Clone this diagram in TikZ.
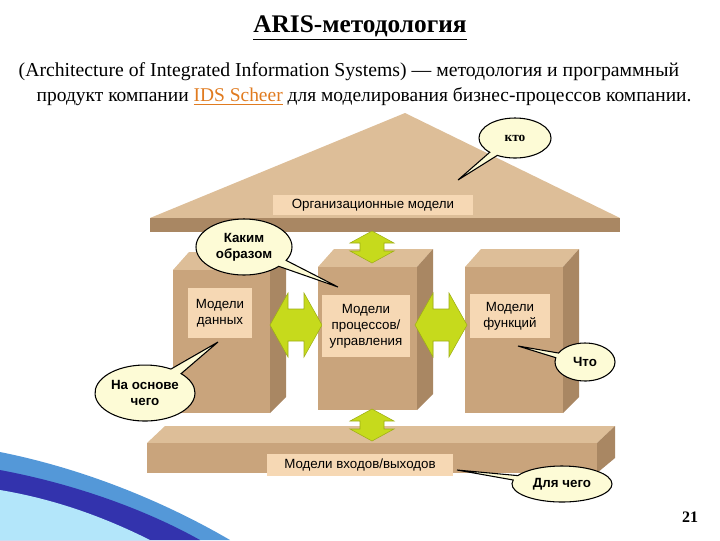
\documentclass[tikz,border=0pt]{standalone}
\usepackage{fontspec}
\setmainfont{Liberation Serif}
\newfontfamily\dsans{Liberation Sans}
\usetikzlibrary{shapes.callouts}
\definecolor{front}{HTML}{C9A47C}
\definecolor{side}{HTML}{A98763}
\definecolor{topf}{HTML}{DDBE98}
\definecolor{lbl}{HTML}{F6D8B4}
\definecolor{cal}{HTML}{FDFBD6}
\definecolor{grn}{HTML}{C6DA1C}
\definecolor{orng}{HTML}{E07B20}
\begin{document}
\begin{tikzpicture}[x=0.75pt,y=-0.75pt,
 lb/.style={fill=lbl,font=\dsans\fontsize{10}{12}\selectfont,align=center,inner sep=2pt},
 co/.style={ellipse callout,draw=black,fill=cal,thick,font=\dsans\bfseries\fontsize{10}{12}\selectfont,align=center,inner sep=1pt},
 ga/.style={fill=grn,draw=grn!80!black}]
\useasboundingbox (0,0) rectangle (720,540);
% swoosh
\fill[cyan!60!blue!70] (0,452) .. controls (90,470) and (170,505) .. (230,540) -- (0,540) -- cycle;
\fill[blue!60!black!80] (0,470) .. controls (80,485) and (150,512) .. (200,540) -- (0,540) -- cycle;
\fill[cyan!30] (0,490) .. controls (60,500) and (110,520) .. (150,540) -- (0,540) -- cycle;
% title
\node (t) at (360,28) {\fontsize{19}{22}\selectfont\bfseries\underline{ARIS-методология}};
\node[anchor=west] (p1) at (14,72) {\fontsize{14.8}{17}\selectfont (Architecture of Integrated Information Systems) — методология и программный};
\node[anchor=west] (p2) at (32,97) {\fontsize{14.6}{17}\selectfont продукт компании \textcolor{orng}{\underline{IDS Scheer}} для моделирования бизнес-процессов компании.};
% roof
\fill[topf] (150,218) -- (405,113) -- (620,218) -- cycle;
\fill[side] (150,218) -- (620,218) -- (620,232) -- (150,232) -- cycle;
\node[lb,minimum width=200pt*0.75,minimum height=20pt*0.75] (org) at (373,205) {Организационные модели};
% base
\fill[topf] (147,443) -- (165,426) -- (615,426) -- (597,443) -- cycle;
\fill[side] (597,443) -- (615,426) -- (615,458) -- (597,473) -- cycle;
\fill[front] (147,443) rectangle (597,473);
\node[lb,minimum width=186pt*0.75,minimum height=22pt*0.75] (io) at (360,465) {Модели входов/выходов};
% pillars
\foreach \a/\b/\t/\bt in {173/270/270/413, 318/417/267/410, 465/563/267/413}{
 \fill[topf] (\a,\t) -- (\a+16,\t-18) -- (\b+16,\t-18) -- (\b,\t) -- cycle;
 \fill[side] (\b,\t) -- (\b+16,\t-18) -- (\b+16,\bt-16) -- (\b,\bt) -- cycle;
 \fill[front] (\a,\t) rectangle (\b,\bt);
}
% arrows
\draw[ga,shift={(372,247)}] (0,-16) -- (22,-4) -- (12,-4) -- (12,4) -- (22,4) -- (0,16) -- (-22,4) -- (-12,4) -- (-12,-4) -- (-22,-4) -- cycle;
\draw[ga,shift={(372,425)}] (0,-16) -- (22,-4) -- (12,-4) -- (12,4) -- (22,4) -- (0,16) -- (-22,4) -- (-12,4) -- (-12,-4) -- (-22,-4) -- cycle;
\draw[ga,shift={(296,325)}] (-26,0) -- (-8,-32) -- (-8,-16) -- (8,-16) -- (8,-32) -- (26,0) -- (8,32) -- (8,16) -- (-8,16) -- (-8,32) -- cycle;
\draw[ga,shift={(441,325)}] (-26,0) -- (-8,-32) -- (-8,-16) -- (8,-16) -- (8,-32) -- (26,0) -- (8,32) -- (8,16) -- (-8,16) -- (-8,32) -- cycle;
\node[lb,minimum width=64pt*0.75,minimum height=50pt*0.75] (dat) at (220,313) {Модели\\данных};
\node[lb,minimum width=88pt*0.75,minimum height=62pt*0.75] (proc) at (366,326) {Модели\\процессов/\\управления};
\node[lb,minimum width=80pt*0.75,minimum height=44pt*0.75] (fun) at (510,316) {Модели\\функций};
% callouts
\node[co,minimum width=72pt*0.75,minimum height=40pt*0.75,callout absolute pointer={(458,180)}] (kto) at (515,138) {\normalfont\bfseries\fontsize{10}{12}\selectfont кто};
\node[co,minimum width=96pt*0.75,minimum height=56pt*0.75,callout absolute pointer={(338,287)}] (kak) at (244,247) {Каким\\образом};
\node[co,minimum width=100pt*0.75,minimum height=56pt*0.75,callout absolute pointer={(218,342)}] (osn) at (145,393) {На основе\\чего};
\node[co,minimum width=60pt*0.75,minimum height=38pt*0.75,callout absolute pointer={(518,346)}] (cto) at (585,362) {Что};
\node[co,minimum width=100pt*0.75,minimum height=36pt*0.75,callout absolute pointer={(457,470)}] (dla) at (562,484) {Для чего};
\node (n) at (690,517) {\bfseries\fontsize{12}{14}\selectfont 21};
\end{tikzpicture}
\end{document}
